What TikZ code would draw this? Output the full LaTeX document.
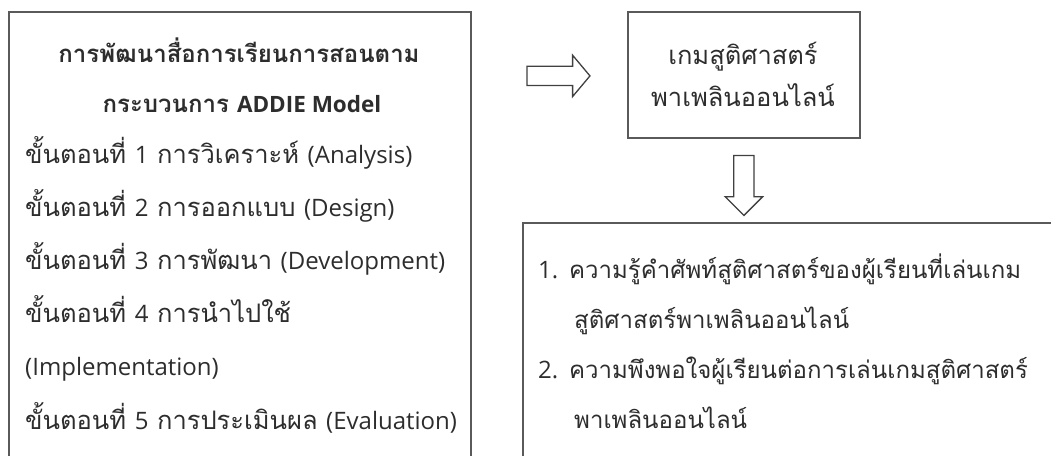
\documentclass[tikz,border=0pt]{standalone}
\usepackage{fontspec}
\newfontfamily\thaifont[Script=Thai]{Loma}
\newfontfamily\latinfont{Open Sans}
\newcommand{\eng}[1]{{\latinfont\fontsize{24}{28}\selectfont #1}}
\newcommand{\engbold}[1]{{\latinfont\bfseries\fontsize{22.5}{27}\selectfont #1}}
\usetikzlibrary{shapes.arrows,calc}

\definecolor{boxline}{RGB}{90,90,90}
\definecolor{txt}{RGB}{45,45,45}
\tikzset{
  box/.style={draw=boxline, line width=1.8pt, rectangle, inner sep=0pt},
  txtline/.style={font=\thaifont\fontsize{25.5}{30}\selectfont, text=txt, inner sep=0pt, anchor=base west},
  resline/.style={txtline, font=\thaifont\fontsize{24}{28}\selectfont},
  titleline/.style={txtline, font=\thaifont\bfseries\fontsize{24}{28}\selectfont, anchor=base},
  blockarrow/.style={draw=black!75, line width=1.3pt, fill=white, single arrow, single arrow head indent=0pt}
}

\begin{document}
\begin{tikzpicture}[x=1pt,y=-1pt]
  \useasboundingbox (0,0) rectangle (1051,455);

  % ADDIE box, open at the bottom
  \node[box, anchor=north west, minimum width=462pt, minimum height=480pt] (addie) at (8,11) {};
  \node[titleline] (title1) at (239,62) {การพัฒนาสื่อการเรียนการสอนตาม};
  \node[titleline] (title2) at (242,112) {กระบวนการ \engbold{ADDIE Model}};
  \foreach \t [count=\i from 0] in {ขั้นตอนที่ \eng{1} การวิเคราะห์ \eng{(Analysis)}, ขั้นตอนที่ \eng{2} การออกแบบ \eng{(Design)}, ขั้นตอนที่ \eng{3} การพัฒนา \eng{(Development)}, ขั้นตอนที่ \eng{4} การนำไปใช้, \eng{(Implementation)}, ขั้นตอนที่ \eng{5} การประเมินผล \eng{(Evaluation)}}
    \node[txtline] (stage\i) at (25, {163 + 53.2*\i}) {\t};

  % game box
  \node[box, anchor=north west, minimum width=232pt, minimum height=126pt] (game) at (627,11) {};
  \node[txtline, anchor=base] (game1) at (743,64) {เกมสูติศาสตร์};
  \node[txtline, anchor=base] (game2) at (743,106) {พาเพลินออนไลน์};

  % outcome box, open at the right and bottom
  \node[box, anchor=north west, minimum width=560pt, minimum height=260pt] (outcome) at (522,222) {};
  \node[resline] (res1) at (538,278) {\eng{1.} ความรู้คำศัพท์สูติศาสตร์ของผู้เรียนที่เล่นเกม};
  \node[resline] (res1b) at (574,328) {สูติศาสตร์พาเพลินออนไลน์};
  \node[resline] (res2) at (538,378) {\eng{2.} ความพึงพอใจผู้เรียนต่อการเล่นเกมสูติศาสตร์};
  \node[resline] (res2b) at (574,428) {พาเพลินออนไลน์};

  % block arrows
  \node[blockarrow, inner xsep=0pt, inner ysep=9pt, minimum height=63pt, minimum width=40pt, single arrow head extend=11pt, single arrow tip angle=100] (toGame) at ($(addie.east |- game.center)!0.5!(game.west) + (5,1)$) {};
  \node[blockarrow, inner sep=9.5pt, minimum height=60pt, minimum width=36pt, single arrow head extend=8.5pt, shape border rotate=270] (toOutcome) at ($(game.south)!0.5!(outcome.north -| game.south)$) {};
\end{tikzpicture}
\end{document}
